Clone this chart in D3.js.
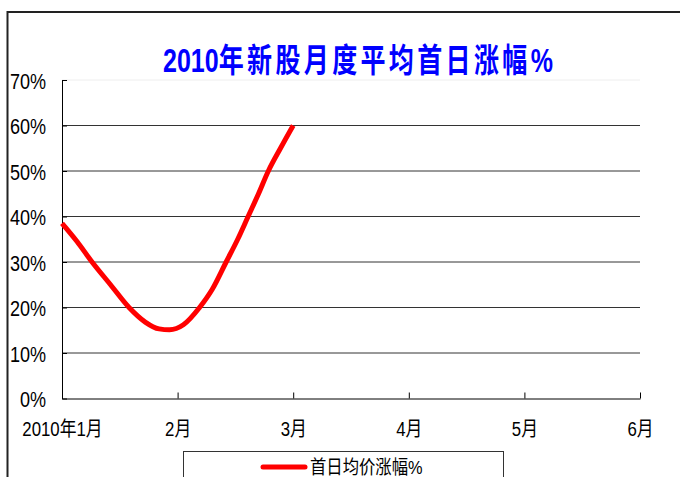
<!DOCTYPE html>
<html>
<head>
<meta charset="utf-8">
<script src="https://cdnjs.cloudflare.com/ajax/libs/d3/7.8.5/d3.min.js"></script>
<style>
  body { margin: 0; background: #fff; }
  svg text { font-family: "Liberation Sans", Arial, "Noto Sans CJK SC", sans-serif; }
</style>
</head>
<body>
<div id="chart"></div>
<script>
// 数据：月份位置（0 = 2010年1月）和首日涨幅
var monthPos = [0, 0.13, 0.26, 0.42, 0.58, 0.72, 0.84, 0.93, 1.05, 1.19, 1.30, 1.42, 1.52, 1.61, 1.70, 1.785, 1.89, 2.0];
var rise     = [0.385, 0.345, 0.30, 0.25, 0.20, 0.168, 0.153, 0.151, 0.162, 0.20, 0.24, 0.30, 0.35, 0.40, 0.45, 0.50, 0.55, 0.60];
var monthLabels = ["2010年1月", "2月", "3月", "4月", "5月", "6月"];
var yTicks = [0, 0.1, 0.2, 0.3, 0.4, 0.5, 0.6, 0.7];
var seriesName = "首日均价涨幅%";
var titleParts = ["2010", "年新股月度平均首日涨幅", "%"];

var width = 680, height = 477;
var margin = { top: 80, right: 40, bottom: 78.5, left: 62 };

var svg = d3.select("#chart").append("svg")
    .attr("width", width)
    .attr("height", height);

// 把文字横向压窄（原图用的是窄体字）
function squeeze(sel, k) {
    sel.each(function () {
        var w = this.getComputedTextLength();
        d3.select(this).attr("textLength", w * k).attr("lengthAdjust", "spacingAndGlyphs");
    });
}

// 外框
svg.append("path")
    .attr("d", "M7.5," + height + "V12H" + width)
    .attr("fill", "none")
    .attr("stroke", "#222")
    .attr("stroke-width", 2);

var x = d3.scaleLinear().domain([0, 5]).range([margin.left, width - margin.right]);
var y = d3.scaleLinear().domain([0, 0.7]).range([height - margin.bottom, margin.top]);

// 网格线
svg.append("g")
    .selectAll("line")
    .data(yTicks.filter(function (d) { return d > 0; }))
    .enter().append("line")
    .attr("x1", x(0))
    .attr("x2", x(5))
    .attr("y1", function (d) { return y(d); })
    .attr("y2", function (d) { return y(d); })
    .attr("stroke", function (d) { return d >= 0.7 ? "#eeeeee" : "#333"; })
    .attr("stroke-width", 1);

// 标题：纵向拉高、横向压到原图宽度
var title = svg.append("text")
    .attr("fill", "#0000ff")
    .attr("font-weight", "bold")
    .attr("font-size", 27);
title.append("tspan").text(titleParts[0]);
title.append("tspan").attr("letter-spacing", 3.6).text(titleParts[1]);
title.append("tspan").text(titleParts[2]);
var tw = title.node().getBBox().width;
var sx = 390 / tw;
title.attr("transform", "translate(" + (358 - 195) + ",72) scale(" + sx + ",1.22)");

// Y 轴
var yAxis = svg.append("g")
    .attr("transform", "translate(" + x(0) + ",0)")
    .call(d3.axisLeft(y).tickValues(yTicks).tickSize(-5).tickSizeOuter(0).tickPadding(16)
        .tickFormat(d3.format(".0%")));
yAxis.selectAll("text").attr("font-size", 22).attr("fill", "#000").attr("dy", "0.38em");
yAxis.selectAll("line, path").attr("stroke", "#000");
squeeze(yAxis.selectAll("text"), 0.82);

// X 轴
var xAxis = svg.append("g")
    .attr("transform", "translate(0," + y(0) + ")")
    .call(d3.axisBottom(x).tickValues(d3.range(6)).tickSize(-6).tickSizeOuter(0).tickPadding(23)
        .tickFormat(function (d, i) { return monthLabels[i]; }));
xAxis.selectAll("text").attr("font-size", 20).attr("fill", "#000");
xAxis.selectAll("line, path").attr("stroke", "#000");
squeeze(xAxis.selectAll("text"), 0.84);

// 折线
var line = d3.line()
    .x(function (d, i) { return x(monthPos[i]); })
    .y(function (d) { return y(d); })
    .curve(d3.curveMonotoneX);

svg.append("path")
    .datum(rise)
    .attr("d", line)
    .attr("fill", "none")
    .attr("stroke", "#ff0000")
    .attr("stroke-width", 5)
    .attr("stroke-linejoin", "round");

// 图例
var legend = svg.append("g");
legend.append("rect")
    .attr("x", 183.5)
    .attr("y", 451.5)
    .attr("width", 320)
    .attr("height", 40)
    .attr("fill", "#fff")
    .attr("stroke", "#333")
    .attr("stroke-width", 1);
legend.append("line")
    .attr("x1", 263).attr("x2", 305)
    .attr("y1", 467).attr("y2", 467)
    .attr("stroke", "#ff0000")
    .attr("stroke-width", 5)
    .attr("stroke-linecap", "round");
var lt = legend.append("text")
    .attr("x", 310)
    .attr("y", 474)
    .attr("font-size", 19)
    .text(seriesName);
squeeze(lt, 0.86);
</script>
</body>
</html>
